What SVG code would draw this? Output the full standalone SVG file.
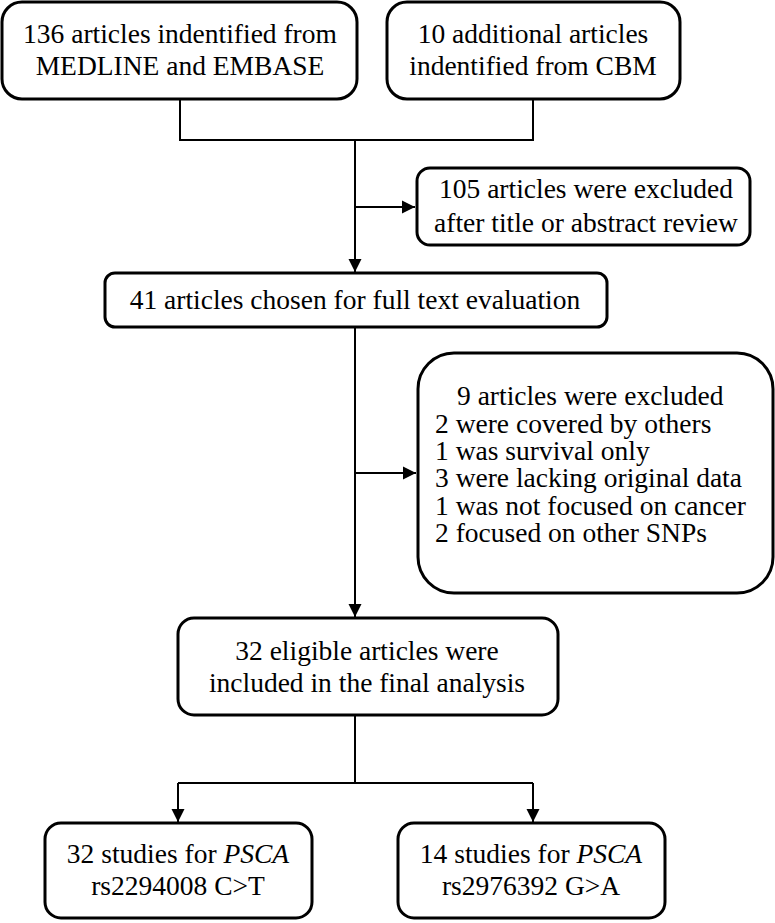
<svg xmlns="http://www.w3.org/2000/svg" width="775" height="923" viewBox="0 0 775 923">
<style>
.box{fill:#fff;stroke:#000;stroke-width:3}
.ln{fill:none;stroke:#000;stroke-width:2}
.c{text-anchor:middle}
.it{font-style:italic}
</style>
<defs>
<marker id="ah" markerUnits="userSpaceOnUse" markerWidth="14" markerHeight="14" viewBox="0 0 14 14" refX="13" refY="7" orient="auto">
<path d="M0,0.5 L13,7 L0,13.5 Z" fill="#000"/>
</marker>
</defs>
<rect width="775" height="923" fill="#fff"/>
<g id="connectors">
<path class="ln" d="M180,99 V140 H533 V99"/>
<path class="ln" d="M355,140 V272" marker-end="url(#ah)"/>
<path class="ln" d="M355,207 H415" marker-end="url(#ah)"/>
<path class="ln" d="M355,327 V617" marker-end="url(#ah)"/>
<path class="ln" d="M355,473 H416" marker-end="url(#ah)"/>
<path class="ln" d="M355,715 V783"/>
<path class="ln" d="M178,783 H533"/>
<path class="ln" d="M178,783 V822" marker-end="url(#ah)"/>
<path class="ln" d="M533,783 V822" marker-end="url(#ah)"/>
</g>
<g font-family="Liberation Serif, Times New Roman, DejaVu Serif, serif" font-size="27.5" fill="#000">
<g id="n1">
<rect class="box" x="2" y="2" width="355" height="97" rx="20"/>
<text class="c" x="180" y="43">136 articles indentified from</text>
<text class="c" x="180" y="75">MEDLINE and EMBASE</text>
</g>
<g id="n2">
<rect class="box" x="387" y="2" width="293" height="97" rx="20"/>
<text class="c" x="533" y="43">10 additional articles</text>
<text class="c" x="533" y="75">indentified from CBM</text>
</g>
<g id="n3">
<rect class="box" x="417" y="168" width="333" height="77" rx="13"/>
<text class="c" x="586" y="198">105 articles were excluded</text>
<text class="c" x="586" y="232">after title or abstract review</text>
</g>
<g id="n4">
<rect class="box" x="105" y="273" width="502" height="54" rx="10"/>
<text class="c" x="355" y="309">41 articles chosen for full text evaluation</text>
</g>
<g id="n5">
<rect class="box" x="418" y="353" width="355" height="240" rx="36"/>
<text><tspan x="457" y="405">9 articles were excluded</tspan><tspan x="435" y="432.5">2 were covered by others</tspan><tspan x="435" y="460">1 was survival only</tspan><tspan x="435" y="487">3 were lacking original data</tspan><tspan x="435" y="514.5">1 was not focused on cancer</tspan><tspan x="435" y="542">2 focused on other SNPs</tspan></text>
</g>
<g id="n6">
<rect class="box" x="178" y="618" width="380" height="97" rx="16"/>
<text class="c" x="367" y="660">32 eligible articles were</text>
<text class="c" x="367" y="692">included in the final analysis</text>
</g>
<g id="n7">
<rect class="box" x="45" y="823" width="267" height="95" rx="16"/>
<text class="c" x="178" y="863">32 studies for <tspan class="it">PSCA</tspan></text>
<text class="c" x="178" y="895">rs2294008 C&gt;T</text>
</g>
<g id="n8">
<rect class="box" x="398" y="823" width="267" height="95" rx="16"/>
<text class="c" x="531" y="863">14 studies for <tspan class="it">PSCA</tspan></text>
<text class="c" x="531" y="895">rs2976392 G&gt;A</text>
</g>
</g>
</svg>
